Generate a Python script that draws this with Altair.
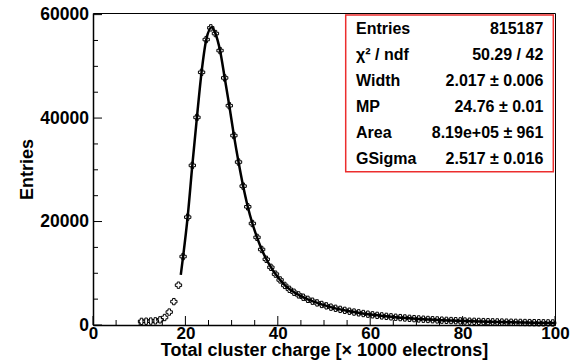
import altair as alt
import pandas as pd

# ---- data ----
bin_low = 10  # first filled bin starts at 10 (bin width 1)
counts = [
    700, 730, 760, 800, 1000, 1450, 2500, 4520, 7700, 13230,          # 10.5 - 19.5
    20850, 30850, 40130, 48850, 55180, 57440, 56340, 53050, 47760, 42400,  # 20.5 - 29.5
    36620, 31500, 26850, 22850, 19620, 16940, 14600, 12700, 11150, 9830,   # 30.5 - 39.5
    8710, 7650, 6900, 6330, 5820, 5370, 4960, 4600, 4270, 3970,            # 40.5 - 49.5
    3700, 3450, 3230, 3020, 2830, 2660, 2500, 2350, 2220, 2090,            # 50.5 - 59.5
    1970, 1860, 1760, 1670, 1580, 1500, 1430, 1360, 1290, 1230,            # 60.5 - 69.5
    1170, 1120, 1070, 1020, 980, 940, 900, 860, 830, 795,                  # 70.5 - 79.5
    765, 735, 710, 685, 660, 635, 612, 590, 570, 550,                      # 80.5 - 89.5
    532, 515, 498, 482, 467, 452, 438, 425, 412, 400,                      # 90.5 - 99.5
]
centers = [bin_low + i + 0.5 for i in range(len(counts))]

fit_x = [19.0, 19.5, 20.5, 21.5, 22.5, 23.5, 24.5, 25.7, 26.5, 27.5, 28.5, 29.5,
         30.5, 31.5, 32.5, 33.5, 34.5, 35.5, 36.5, 37.5, 38.5, 39.5, 40.5, 41.5,
         44.5, 47.5, 50.5, 55.5, 60.5, 65.5, 70.5, 75.5, 80.5, 85.5, 90.5, 95.5, 100.0]
fit_y = [9700, 13200, 21000, 30900, 40200, 48900, 55100, 57550, 56350, 53050, 47800, 42400,
         36650, 31500, 26850, 22850, 19620, 16940, 14650, 12750, 11180, 9840, 8720, 7700,
         5820, 4600, 3700, 2660, 1970, 1500, 1170, 940, 765, 635, 532, 452, 400]

x_major = [0, 20, 40, 60, 80, 100]
x_minor = [5, 10, 15, 25, 30, 35, 45, 50, 55, 65, 70, 75, 85, 90, 95]
y_major = [0, 20000, 40000, 60000]
y_minor = [5000, 10000, 15000, 25000, 30000, 35000, 45000, 50000, 55000]

stat_names = ["Entries", "\u03c7\u00b2 / ndf", "Width", "MP", "Area", "GSigma"]
stat_values = ["815187", "50.29 / 42", "2.017 \u00b1 0.006", "24.76 \u00b1 0.01",
               "8.19e+05 \u00b1 961", "2.517 \u00b1 0.016"]

# ---- layout ----
W, H = 462, 312
FONT = "Liberation Sans"
XTITLE = "Total cluster charge [\u00d7 1000 electrons]"
xs = alt.Scale(domain=[0, 100], nice=False, zero=False)
ys = alt.Scale(domain=[0, 60312], nice=False, zero=False)

xaxis = alt.Axis(
    values=x_major, format="d", ticks=False, grid=False, domain=True,
    domainColor="black", domainWidth=1.5, labelFlush=False, labelOverlap=False,
    labelFont=FONT, labelFontWeight="bold", labelFontSize=17, labelColor="black",
    labelPadding=0,
    title=XTITLE, titleFont=FONT,
    titleFontWeight="bold", titleFontSize=18, titleColor="black",
    titleX=231, titleY=30, titleAlign="center", titleBaseline="alphabetic")
yaxis = alt.Axis(
    values=y_major, format="d", ticks=False, grid=False, domain=True,
    domainColor="black", domainWidth=1.5, labelFlush=False, labelOverlap=False,
    labelFont=FONT, labelFontWeight="bold", labelFontSize=17.5, labelColor="black",
    labelPadding=4.5,
    title="Entries", titleFont=FONT, titleFontWeight="bold", titleFontSize=18,
    titleColor="black", titleX=-61, titleY=156, titleAngle=270,
    titleAlign="center", titleBaseline="alphabetic")


def X(field):
    return alt.X(field, scale=xs, axis=xaxis, title=XTITLE)


def Y(field):
    return alt.Y(field, scale=ys, axis=yaxis, title="Entries")


points = alt.Chart(pd.DataFrame({"x": centers, "y": counts})).mark_point(
    shape="cross", filled=False, size=40, strokeWidth=1, color="black", opacity=1
).encode(x=X("x:Q"), y=Y("y:Q"))

fit = alt.Chart(pd.DataFrame({"x": fit_x, "y": fit_y})).mark_line(
    color="black", strokeWidth=2.5, interpolate="monotone"
).encode(x=X("x:Q"), y=Y("y:Q"))

xmaj = alt.Chart(pd.DataFrame({"x": x_major})).mark_rule(color="black", strokeWidth=1).encode(
    x=X("x:Q"), y=alt.value(H), y2=alt.value(H - 9))
xmin = alt.Chart(pd.DataFrame({"x": x_minor})).mark_rule(color="black", strokeWidth=1).encode(
    x=X("x:Q"), y=alt.value(H), y2=alt.value(H - 5))
ymaj = alt.Chart(pd.DataFrame({"y": y_major})).mark_rule(color="black", strokeWidth=1).encode(
    y=Y("y:Q"), x=alt.value(0), x2=alt.value(9))
ymin = alt.Chart(pd.DataFrame({"y": y_minor})).mark_rule(color="black", strokeWidth=1).encode(
    y=Y("y:Q"), x=alt.value(0), x2=alt.value(5))

box = alt.Chart(pd.DataFrame({"a": [0]})).mark_rect(
    fill="white", stroke="#ec2d2d", strokeWidth=1.5
).encode(x=alt.value(252.7), x2=alt.value(460.3), y=alt.value(2), y2=alt.value(158.7))

layers = [points, fit, xmaj, xmin, ymaj, ymin, box]
ROW0, ROWSTEP = 21, 26
for i, (n, v) in enumerate(zip(stat_names, stat_values)):
    yy = ROW0 + i * ROWSTEP
    layers.append(alt.Chart(pd.DataFrame({"t": [n]})).mark_text(
        font=FONT, fontWeight="bold", fontSize=16, color="black", align="left",
        baseline="alphabetic").encode(text="t:N", x=alt.value(263), y=alt.value(yy)))
    layers.append(alt.Chart(pd.DataFrame({"t": [v]})).mark_text(
        font=FONT, fontWeight="bold", fontSize=16, color="black", align="right",
        baseline="alphabetic").encode(text="t:N", x=alt.value(450.3), y=alt.value(yy)))

chart = alt.layer(*layers).properties(
    width=W, height=H,
    autosize=alt.AutoSizeParams(type="none"),
    padding={"left": 93, "top": 13, "right": 19, "bottom": 39},
    background="white",
).configure_view(stroke="black", strokeWidth=1)

chart.save("out.html", embed_options={"renderer": "svg", "actions": False})
